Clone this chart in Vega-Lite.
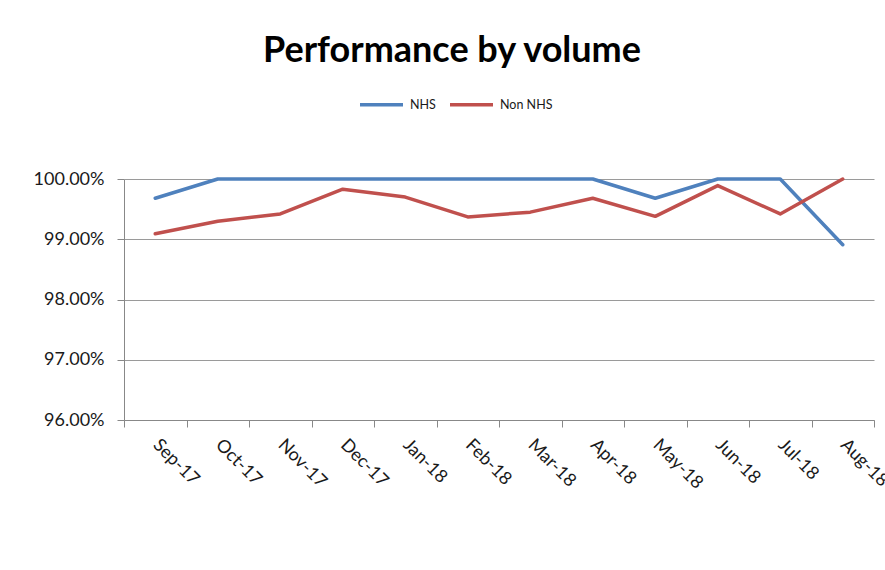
{
  "$schema": "https://vega.github.io/schema/vega-lite/v6.json",
  "width": 750,
  "height": 241,
  "autosize": {"type": "none"},
  "padding": {"left": 124, "top": 179, "right": 11, "bottom": 150},
  "background": "white",
  "title": {
    "text": "Performance by volume",
    "font": "Lato",
    "fontSize": 36,
    "fontWeight": "bold",
    "color": "#000000",
    "anchor": "middle",
    "frame": "group",
    "dx": -47,
    "offset": 11
  },
  "config": {
    "view": {"stroke": null},
    "font": "Lato"
  },
  "data": {
    "values": [
      {"month": "Sep-17", "series": "NHS", "value": 0.9968},
      {"month": "Oct-17", "series": "NHS", "value": 1.0},
      {"month": "Nov-17", "series": "NHS", "value": 1.0},
      {"month": "Dec-17", "series": "NHS", "value": 1.0},
      {"month": "Jan-18", "series": "NHS", "value": 1.0},
      {"month": "Feb-18", "series": "NHS", "value": 1.0},
      {"month": "Mar-18", "series": "NHS", "value": 1.0},
      {"month": "Apr-18", "series": "NHS", "value": 1.0},
      {"month": "May-18", "series": "NHS", "value": 0.9968},
      {"month": "Jun-18", "series": "NHS", "value": 1.0},
      {"month": "Jul-18", "series": "NHS", "value": 1.0},
      {"month": "Aug-18", "series": "NHS", "value": 0.9891},
      {"month": "Sep-17", "series": "Non NHS", "value": 0.9909},
      {"month": "Oct-17", "series": "Non NHS", "value": 0.9930},
      {"month": "Nov-17", "series": "Non NHS", "value": 0.9942},
      {"month": "Dec-17", "series": "Non NHS", "value": 0.9983},
      {"month": "Jan-18", "series": "Non NHS", "value": 0.9970},
      {"month": "Feb-18", "series": "Non NHS", "value": 0.9937},
      {"month": "Mar-18", "series": "Non NHS", "value": 0.9945},
      {"month": "Apr-18", "series": "Non NHS", "value": 0.9968},
      {"month": "May-18", "series": "Non NHS", "value": 0.9938},
      {"month": "Jun-18", "series": "Non NHS", "value": 0.9989},
      {"month": "Jul-18", "series": "Non NHS", "value": 0.9942},
      {"month": "Aug-18", "series": "Non NHS", "value": 1.0}
    ]
  },
  "mark": {"type": "line", "strokeWidth": 3.5, "strokeJoin": "round", "strokeCap": "round"},
  "encoding": {
    "x": {
      "field": "month",
      "type": "ordinal",
      "sort": ["Sep-17","Oct-17","Nov-17","Dec-17","Jan-18","Feb-18","Mar-18","Apr-18","May-18","Jun-18","Jul-18","Aug-18"],
      "scale": {"type": "band", "paddingInner": 0, "paddingOuter": 0},
      "axis": {
        "title": null,
        "tickBand": "extent",
        "labelAngle": 45,
        "labelAlign": "left",
        "labelBaseline": "middle",
        "labelFontSize": 18,
        "labelColor": "#1a1a1a",
        "labelPadding": 15,
        "domainColor": "#888888",
        "tickColor": "#888888",
        "tickSize": 7,
        "grid": false
      }
    },
    "y": {
      "field": "value",
      "type": "quantitative",
      "scale": {"domain": [0.96, 1.0], "nice": false, "zero": false},
      "axis": {
        "title": null,
        "values": [0.96, 0.97, 0.98, 0.99, 1.0],
        "format": ".2%",
        "labelFontSize": 18,
        "labelColor": "#1a1a1a",
        "labelPadding": 13,
        "domainColor": "#888888",
        "tickColor": "#888888",
        "tickSize": 7,
        "grid": true,
        "gridColor": "#9a9a9a",
        "gridWidth": 1
      }
    },
    "color": {
      "field": "series",
      "type": "nominal",
      "scale": {"domain": ["NHS", "Non NHS"], "range": ["#4F81BD", "#C0504D"]},
      "legend": {
        "title": null,
        "orient": "none",
        "direction": "horizontal",
        "legendX": 234,
        "legendY": -98,
        "padding": 0,
        "symbolType": "stroke",
        "symbolSize": 1849,
        "symbolStrokeWidth": 3.5,
        "labelFontSize": 12.5,
        "labelColor": "#1a1a1a",
        "labelOffset": 5,
        "columnPadding": 7
      }
    }
  }
}
